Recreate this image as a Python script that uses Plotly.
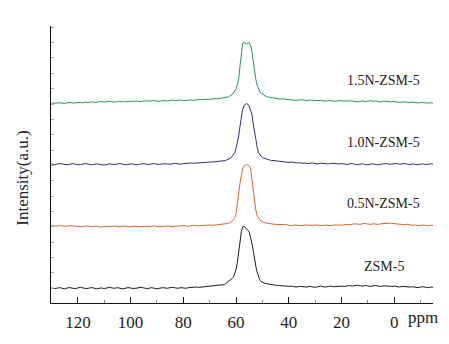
import plotly.graph_objects as go

# Chemical shift sample positions (ppm)
PPM = [
    130, 129, 128, 127, 126, 125, 124, 123, 122, 121,
    120, 119, 118, 117, 116, 115, 114, 113, 112, 111,
    110, 109, 108, 107, 106, 105, 104, 103, 102, 101,
    100, 99, 98, 97, 96, 95, 94, 93, 92, 91,
    90, 89, 88, 87, 86, 85, 84, 83, 82, 81,
    80, 79, 78, 77, 76, 75, 74, 73, 72, 71,
    70, 69, 68, 67, 66,
    65, 64.5, 64, 63.5, 63, 62.5, 62, 61.5, 61, 60.5,
    60, 59.5, 59, 58.5, 58, 57.5, 57, 56.5, 56, 55.5,
    55, 54.5, 54, 53.5, 53, 52.5, 52, 51.5, 51, 50.5,
    50, 49.5, 49, 48.5, 48, 47.5, 47,
    46, 45, 44, 43, 42, 41, 40, 39, 38, 37,
    36, 35, 34, 33, 32, 31, 30, 29, 28, 27,
    26, 25, 24, 23, 22, 21, 20, 19, 18, 17,
    16, 15, 14, 13, 12, 11, 10, 9, 8, 7,
    6, 5, 4, 3, 2, 1, 0, -1, -2, -3,
    -4, -5, -6, -7, -8, -9, -10, -11, -12, -13,
    -14, -15,
]

ZSM5 = [
    0.5, -0.5, 0, 1, 0, -1, 0.5, 1, 0, -0.5,
    0.5, 1.5, 0.5, -0.5, 0, 1, 0.5, -1, 0, 0.5,
    -0.5, 0.5, 1.5, 0.5, 0, 1, 0, -1, 0, 1,
    0.5, -0.5, 0, 1, 1.5, 0.5, -0.5, 0, 1, 0,
    -1, 0, 1, 0.5, 0, 1, 1.5, 0.5, 0, 1,
    0.5, 0, 1, 1.5, 1, 2, 1.5, 2, 2.5, 2,
    3, 3, 3.5, 4, 4.5,
    5, 6, 7.5, 9, 11, 13, 14.5, 16, 18, 24,
    31, 42, 62, 80, 92, 100, 101, 99, 97, 94,
    91, 84, 73.5, 62, 46, 36, 26, 18, 14, 11,
    9.5, 8.5, 8, 7.5, 7, 6.5, 6,
    5.5, 5, 4.5, 4.5, 4, 3.5, 3, 3.5, 2.5, 2,
    3, 2.5, 1.5, 2, 3, 2.5, 1.5, 2.5, 3.5, 2.5,
    2, 3, 3.5, 2.5, 3, 4, 3.5, 3, 4, 4.5,
    3.5, 4, 5, 4, 3.5, 4.5, 4, 3, 4, 4.5,
    3.5, 3, 4, 3.5, 2.5, 3, 3.5, 2.5, 2, 3,
    2.5, 1.5, 2, 2.5, 1.5, 1, 2, 2.5, 1.5, 1,
    2, 1.5,
]

N05_ZSM5 = [
    0, -0.5, -1, 0, -0.5, -1.5, -1, 0, -0.5, -1.5,
    -1, -2, -1.5, -0.5, -1, -2, -1.5, -1, -2, -2.5,
    -1.5, -1, -2, -1.5, -0.5, -1.5, -2, -1, -1.5, -2.5,
    -2, -1, -1.5, -2.5, -2, -1, -1.5, -2, -1, -0.5,
    -1.5, -2, -1, -1.5, -0.5, -1, -2, -1, -0.5, -1,
    0, -0.5, -1, 0, 0.5, -0.5, 0, 0.5, 0, 0.5,
    1, 0.5, 1, 1, 1.5,
    1.5, 2, 2.5, 3, 3.5, 4.5, 5.5, 7, 10, 13,
    20, 33, 52, 70, 84, 93, 97, 99, 99, 99,
    97, 92, 76, 60, 36, 25, 16, 12, 9.5, 7.5,
    6, 5, 4.5, 4, 3.5, 3, 2.5,
    2.5, 2, 2, 1.5, 1, 1.5, 0.5, 0, 1, 0.5,
    -0.5, 0, 1, 0.5, 0, 0.5, 1, 0.5, -0.5, 0,
    1, 0.5, 0, 1, 1.5, 1, 0.5, 1.5, 2, 1.5,
    2.5, 3, 2.5, 2, 3, 3.5, 2.5, 2, 3, 2.5,
    2, 3, 3.5, 3, 4, 3.5, 3, 2.5, 3, 2,
    1.5, 2, 1, 0.5, 1, 0, 0.5, 1, 0, -0.5,
    0.5, 0,
]

N10_ZSM5 = [
    0.5, -0.5, 0, 1, 0.5, -0.5, -1, 0, 1, 0,
    -1, -0.5, 0.5, 1, 0, -1, -0.5, 0.5, 0, -1,
    -1.5, -0.5, 0.5, 0, -0.5, 0.5, 1, 0, -1, -0.5,
    0.5, 0, -1, -0.5, 0.5, 1, 0, -0.5, 0.5, 1,
    0, -0.5, 0.5, 1, 0.5, 0, 1, 1.5, 0.5, 0,
    1, 1.5, 1, 2, 1.5, 2, 2.5, 3, 2.5, 3,
    3.5, 3.5, 4, 4, 4.5,
    4.5, 5, 6, 7, 8, 9, 10.5, 12.5, 15, 19,
    26, 34, 46, 62, 79, 89, 95, 98, 98.5, 97.5,
    94, 89, 81, 66, 52, 38, 28, 19, 15, 13,
    11, 10, 9, 8, 7.5, 7, 6.5,
    6, 5.5, 4.5, 4, 4.5, 3.5, 3, 3.5, 2.5, 2,
    2.5, 1.5, 2, 1, 1.5, 2, 1, 0.5, 1.5, 1,
    0, 0.5, 1.5, 1, 0, 0.5, 1, 0, -0.5, 0.5,
    1, 0, -1, 0, 0.5, -0.5, -1, 0, 0.5, -0.5,
    -1, 0, 0.5, 1, 0, 0.5, 1.5, 1, 0, 0.5,
    1, 0, -0.5, 0.5, 0, -1, 0, 0.5, -0.5, 0,
    0.5, -0.5,
]

N15_ZSM5 = [
    -1, -0.5, -1, 0, -0.5, -1, 0, 0.5, -0.5, 0,
    1, 0.5, 0, 1, 0.5, 1.5, 1, 0.5, 1.5, 2,
    1, 1.5, 2.5, 1.5, 1, 2, 2.5, 1.5, 2, 3,
    2.5, 2, 3, 2.5, 2, 3, 3.5, 2.5, 3, 3.5,
    2.5, 3, 4, 3.5, 3, 4, 4.5, 3.5, 4, 4.5,
    3.5, 4, 5, 4.5, 4, 5, 5.5, 5, 5.5, 6,
    5.5, 6, 6.5, 6.5, 7,
    7.5, 8, 8.5, 8.5, 9.5, 10.5, 11.5, 13, 16, 19,
    23, 30, 39, 60, 79, 97, 98, 97, 95.5, 97,
    98, 93, 84, 69, 52, 38, 29, 22, 18, 15.5,
    14, 12.5, 11, 10, 9.5, 9, 8.5,
    7.5, 7, 6.5, 6, 6.5, 5.5, 5, 5.5, 5, 4,
    4.5, 5, 4, 3.5, 4.5, 4, 3, 3.5, 4, 3,
    2.5, 3.5, 3, 2, 2.5, 3.5, 3, 2, 2.5, 3.5,
    3, 2, 1.5, 2.5, 3, 2, 3, 3.5, 2.5, 3,
    2, 1.5, 2.5, 2, 1, 1.5, 2, 1, 0.5, 1.5,
    1, 0, 0.5, 1, 0, -0.5, 0.5, 0, -1, -0.5,
    0, -1,
]

SAMPLES = ["ZSM-5", "0.5N-ZSM-5", "1.0N-ZSM-5", "1.5N-ZSM-5"]
SERIES = [ZSM5, N05_ZSM5, N10_ZSM5, N15_ZSM5]
OFFSETS = [0, 102, 202, 302]
COLORS = ["#1a1a1a", "#e2612d", "#2f2c80", "#23985a"]
X_TICKS = [120, 100, 80, 60, 40, 20, 0]

for s in SERIES:
    if len(s) != len(PPM):
        raise ValueError(f"length mismatch {len(s)} vs {len(PPM)}")

FONT = "Liberation Serif, Times New Roman, serif"

fig = go.Figure()
for name, vals, off, col in zip(SAMPLES, SERIES, OFFSETS, COLORS):
    fig.add_trace(go.Scatter(
        x=PPM, y=[v + off for v in vals], mode="lines", name=name,
        line=dict(color=col, width=1), showlegend=False,
    ))
    fig.add_annotation(
        x=4, y=off + 36, xref="x", yref="y", text=name, showarrow=False,
        font=dict(family=FONT, size=14, color="#222"),
        xanchor="center", yanchor="middle",
    )

fig.add_annotation(
    x=0.974, y=-0.053, xref="paper", yref="paper", text="ppm", showarrow=False,
    font=dict(family=FONT, size=17, color="#222"), xanchor="center", yanchor="middle",
)
fig.add_annotation(
    x=-0.073, y=0.449, xref="paper", yref="paper", text="Intensity(a.u.)",
    showarrow=False, textangle=-90,
    font=dict(family=FONT, size=17, color="#222"), xanchor="center", yanchor="middle",
)

# page body adds an 8px margin, so the figure is sized to fit inside it
fig.update_layout(
    width=441, height=336,
    margin=dict(l=43, r=16, t=18, b=34),
    plot_bgcolor="white", paper_bgcolor="white",
    font=dict(family=FONT, size=17, color="#222"),
)
fig.update_xaxes(
    range=[130.2, -14.7], showgrid=False, zeroline=False,
    showline=True, linecolor="#111", linewidth=1.2,
    tickmode="array", tickvals=X_TICKS, ticktext=[str(t) for t in X_TICKS],
    ticks="inside", ticklen=6, tickcolor="#111", tickwidth=1,
    tickfont=dict(family=FONT, size=17, color="#222"),
    ticklabelstandoff=3,
    minor=dict(ticks="inside", ticklen=3, tickcolor="#888", dtick=10, tick0=0),
)
fig.update_yaxes(
    range=[-24, 427], showgrid=False, zeroline=False,
    showline=True, linecolor="#111", linewidth=1.2,
    ticks="inside", ticklen=3, tickcolor="#aaa", dtick=25, tick0=0,
    showticklabels=False,
)

fig.write_html("out.html")
